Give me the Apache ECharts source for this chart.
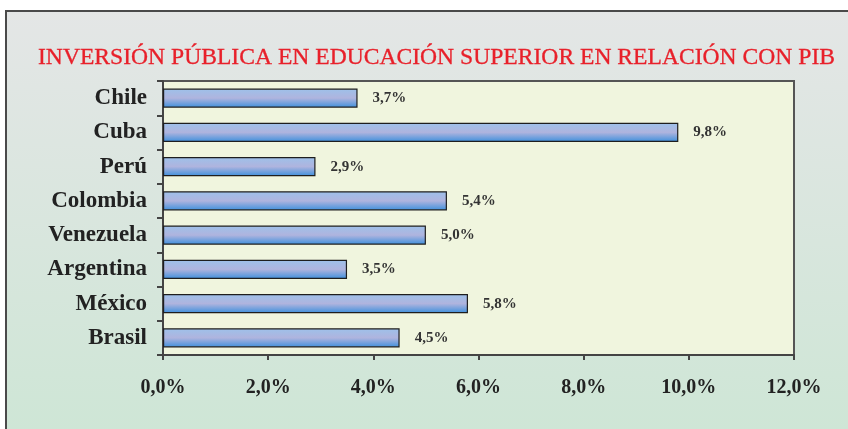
<!DOCTYPE html>
<html>
<head>
<meta charset="utf-8">
<script src="https://cdn.jsdelivr.net/npm/echarts@6/dist/echarts.min.js"></script>
<style>
    html, body { margin: 0; padding: 0; background: #fff; }
    #chart { width: 848px; height: 429px; }
</style>
</head>
<body>
<div id="chart"></div>
<script>
// datos
var paises = ['Chile', 'Cuba', 'Perú', 'Colombia', 'Venezuela', 'Argentina', 'México', 'Brasil'];
var inversion = [3.7, 9.8, 2.9, 5.4, 5.0, 3.5, 5.8, 4.5];
var titulo = 'INVERSIÓN PÚBLICA EN EDUCACIÓN SUPERIOR EN RELACIÓN CON PIB';

var fuente = '"Liberation Serif", "DejaVu Serif", serif';

function pct(v) {
    return v.toFixed(1).replace('.', ',') + '%';
}

var myChart = echarts.init(document.getElementById('chart'));
myChart.setOption({
    animation: false,
    graphic: [{
        type: 'rect',
        z: -10,
        shape: { x: 6, y: 11, width: 880, height: 440 },
        style: {
            fill: new echarts.graphic.LinearGradient(0, 0, 0, 1, [
                { offset: 0, color: '#e4e6e6' },
                { offset: 1, color: '#cde6d5' }
            ]),
            stroke: '#4a4a4a',
            lineWidth: 2
        }
    }],
    title: {
        text: titulo,
        left: 33,
        top: 41,
        textStyle: {
            fontFamily: fuente,
            fontSize: 23.6,
            fontWeight: 'normal',
            color: '#e8202a',
            textBorderColor: '#e8202a',
            textBorderWidth: 0.3
        }
    },
    grid: {
        left: 163,
        right: 54,
        top: 81,
        bottom: 74,
        show: true,
        backgroundColor: '#f0f5de',
        borderColor: '#555',
        borderWidth: 2
    },
    xAxis: {
        type: 'value',
        min: 0,
        max: 12,
        interval: 2,
        axisLine: { show: true, lineStyle: { color: '#444', width: 2 } },
        axisTick: { show: true, length: 5, lineStyle: { color: '#444', width: 2 } },
        splitLine: { show: false },
        axisLabel: {
            margin: 23,
            formatter: function (v) { return pct(v); },
            fontFamily: fuente,
            fontSize: 20,
            fontWeight: 'bold',
            color: '#222'
        }
    },
    yAxis: {
        type: 'category',
        inverse: true,
        data: paises,
        axisLine: { show: true, lineStyle: { color: '#444', width: 2 } },
        axisTick: { show: true, length: 6, lineStyle: { color: '#444', width: 2 } },
        axisLabel: {
            margin: 16,
            fontFamily: fuente,
            fontSize: 23,
            fontWeight: 'bold',
            color: '#222'
        }
    },
    series: [{
        type: 'bar',
        data: inversion,
        barWidth: '56%',
        itemStyle: {
            color: new echarts.graphic.LinearGradient(0, 0, 0, 1, [
                { offset: 0, color: '#9dc1ea' },
                { offset: 0.5, color: '#afb4de' },
                { offset: 1, color: '#3d8fdc' }
            ]),
            borderColor: '#1e1e1e',
            borderWidth: 1.2
        },
        label: {
            show: true,
            position: 'right',
            distance: 15,
            formatter: function (p) { return pct(p.value); },
            fontFamily: fuente,
            fontSize: 15,
            fontWeight: 'bold',
            color: '#333'
        }
    }]
});
</script>
</body>
</html>
